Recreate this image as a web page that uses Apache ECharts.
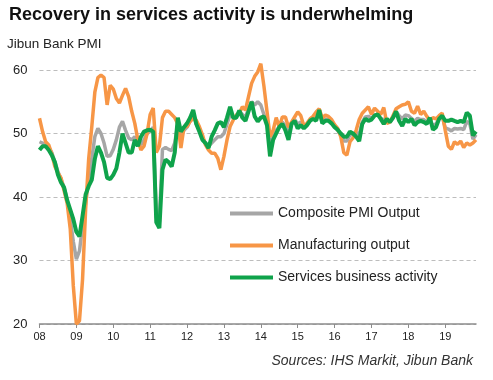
<!DOCTYPE html>
<html>
<head>
<meta charset="utf-8">
<script src="https://cdn.jsdelivr.net/npm/echarts@6/dist/echarts.min.js"></script>
<style>
html,body{margin:0;padding:0;background:#fff;}
#c{width:493px;height:380px;}
</style>
</head>
<body>
<div id="c"></div>
<script>
// Tick labels (years) and y ticks
const yearLabels = ['08','09','10','11','12','13','14','15','16','17','18','19'];
const monthsInLastYear = 11; // data runs to Nov 2019
const yTicks = [20, 30, 40, 50, 60];

// Composite PMI Output (monthly, Jan 2008 - Nov 2019)
const composite = [
  48.7, 48.5, 48.3, 47.8, 47.0, 45.5, 44.0, 42.8, 41.5, 39.5, 36.5, 33.0,
  30.2, 31.5, 35.5, 39.0, 43.0, 46.0, 49.5, 50.8, 50.0, 48.5, 46.4, 46.5,
  47.5, 49.0, 51.0, 51.9, 50.5, 49.3, 49.0, 49.5, 48.8, 48.2, 49.0, 50.0,
  50.3, 51.0, 36.8, 36.0, 47.5, 47.8, 47.5, 47.3, 48.5, 51.5, 49.5, 50.5,
  51.0, 52.0, 53.0, 51.5, 50.5, 49.3, 48.5, 48.0, 48.5, 49.0, 49.5, 49.5,
  50.0, 51.5, 53.0, 52.5, 52.5, 53.5, 53.0, 52.5, 54.0, 55.0, 54.5, 55.0,
  54.5, 53.0, 52.0, 48.0, 49.5, 50.5, 51.0, 51.8, 51.2, 49.8, 51.5, 52.2,
  51.5, 51.8, 50.9, 51.4, 52.1, 52.4, 52.4, 53.7, 51.9, 52.3, 52.2, 51.8,
  51.2, 50.5, 49.8, 48.8, 48.8, 49.8, 49.8, 50.2, 49.8, 51.8, 52.6, 52.7,
  52.4, 52.9, 53.0, 52.4, 52.2, 52.0, 51.8, 52.4, 53.4, 52.8, 52.3, 52.9,
  52.8, 52.4, 51.9, 52.4, 52.2, 52.2, 51.8, 52.0, 51.3, 51.5, 52.4, 52.7,
  50.9, 50.7, 50.4, 50.8, 50.7, 50.8, 50.6, 51.9, 51.5, 49.1, 49.8
];

// Manufacturing output
const manufacturing = [
  52.4, 50.3, 48.7, 48.2, 46.8, 44.8, 43.8, 43.0, 41.0, 39.0, 35.0, 26.0,
  20.0, 20.5, 27.0, 38.0, 46.0, 51.0, 56.5, 58.8, 59.2, 58.8, 54.5, 57.6,
  57.0, 55.5, 54.8, 56.0, 57.1, 55.8, 53.5, 51.6, 49.0, 47.4, 48.0, 50.0,
  53.0, 54.0, 47.0, 48.0, 52.5, 53.5, 53.5, 53.0, 52.5, 51.5, 47.7, 51.0,
  51.1, 51.9, 52.4, 52.1, 51.1, 49.8, 48.2, 47.4, 46.9, 46.9, 46.1, 44.3,
  46.4, 49.0, 51.1, 52.1, 52.9, 53.2, 54.2, 53.7, 55.8, 57.9, 59.0, 59.7,
  61.0, 57.5, 53.5, 49.5, 50.5, 52.5, 51.0, 52.6, 52.6, 51.0, 51.8, 52.6,
  53.4, 52.8, 51.2, 51.6, 52.3, 52.7, 53.4, 53.9, 52.4, 52.9, 52.7, 52.2,
  51.4, 50.8, 49.5, 47.0, 46.6, 48.7, 49.3, 50.5, 52.2, 53.2, 53.7, 54.2,
  53.0, 54.0, 53.5, 53.0, 54.1, 51.6, 51.8, 52.8, 53.9, 54.2, 54.5, 54.6,
  55.0, 53.5, 53.2, 54.3, 53.0, 53.5, 52.7, 52.0, 52.5, 52.3, 52.8, 53.2,
  50.5, 48.0, 47.5, 48.7, 48.3, 48.8, 47.8, 48.5, 48.2, 48.5, 49.0
];

// Services business activity
const services = [
  47.4, 48.0, 48.0, 47.4, 46.6, 45.5, 43.5, 42.3, 41.5, 39.5, 38.0, 36.5,
  34.5, 33.8, 37.0, 40.4, 41.7, 42.7, 46.0, 48.0, 47.0, 45.5, 43.0, 42.8,
  43.5, 44.5, 47.0, 50.0, 48.5, 47.0, 47.0, 49.0, 48.0, 49.5, 50.3, 50.5,
  50.6, 50.3, 36.0, 35.1, 44.3, 45.9, 45.5, 44.8, 47.0, 52.5, 50.3, 51.0,
  51.6, 52.5, 53.7, 51.5, 50.3, 49.0, 48.5, 47.7, 49.5, 50.5, 51.6, 51.8,
  51.0, 52.5, 54.2, 52.5, 52.5, 53.6, 52.5, 52.0, 53.5, 55.0, 52.7, 51.9,
  52.5, 52.7, 51.3, 46.4, 49.0, 50.0, 51.0, 51.5, 50.5, 49.0, 51.5, 52.0,
  50.8, 51.3, 50.8, 51.3, 52.0, 52.3, 52.0, 53.7, 51.6, 52.0, 52.0, 51.6,
  51.0, 50.6, 50.0, 49.5, 49.5, 50.3, 50.0, 49.5, 48.8, 51.5, 52.3, 52.0,
  52.2, 52.8, 53.0, 52.3, 51.5, 52.3, 51.8, 52.5, 53.5, 52.0, 51.2, 52.3,
  51.8, 52.3, 51.3, 51.8, 52.0, 51.8, 51.5, 52.5, 50.6, 51.0, 52.3, 52.8,
  52.0, 52.0, 52.2, 52.0, 51.8, 52.0, 51.8, 53.3, 52.8, 49.7, 50.3
];

const seriesNames = ['Composite PMI Output', 'Manufacturing output', 'Services business activity'];
const seriesColors = ['#a6a6a6', '#f79646', '#0fa34b'];

// Build month categories from year labels
const categories = [];
yearLabels.forEach((y, i) => {
  const n = (i === yearLabels.length - 1) ? monthsInLastYear : 12;
  for (let m = 1; m <= n; m++) categories.push(y + '-' + String(m).padStart(2, '0'));
});

const FONT = '"Liberation Sans", Arial, sans-serif';
const isJan = (idx) => idx % 12 === 0;

const chart = echarts.init(document.getElementById('c'), null, {renderer: 'canvas'});
chart.setOption({
  animation: false,
  backgroundColor: '#ffffff',
  textStyle: {fontFamily: FONT},
  title: [
    {text: 'Recovery in services activity is underwhelming', left: 9, top: 6, padding: 0,
     textStyle: {fontFamily: FONT, fontSize: 18, fontWeight: 'bold', color: '#111'}},
    {text: 'Jibun Bank PMI', left: 7, top: 37, padding: 0,
     textStyle: {fontFamily: FONT, fontSize: 13.5, fontWeight: 'normal', color: '#222'}},
    {text: 'Sources: IHS Markit, Jibun Bank', right: 20, top: 354, padding: 0,
     textStyle: {fontFamily: FONT, fontSize: 14, fontStyle: 'italic', fontWeight: 'normal', color: '#333'}}
  ],
  grid: {left: 39.5, right: 17, top: 70, bottom: 56, containLabel: false},
  legend: {
    orient: 'vertical', left: 225, top: 200,
    icon: 'rect', itemWidth: 43, itemHeight: 4, itemGap: 15,
    textStyle: {fontFamily: FONT, fontSize: 14, color: '#222', lineHeight: 17},
    data: seriesNames
  },
  xAxis: {
    type: 'category', boundaryGap: false, data: categories,
    axisLine: {lineStyle: {color: '#8c8c8c', width: 1.5}},
    axisTick: {show: true, interval: isJan, length: 4, inside: false, lineStyle: {color: '#8c8c8c'}},
    axisLabel: {interval: isJan, margin: 7, fontSize: 11, color: '#222', fontFamily: FONT,
      formatter: (v, idx) => yearLabels[Math.floor(idx / 12)]},
    splitLine: {show: false}
  },
  yAxis: {
    type: 'value', min: yTicks[0], max: yTicks[yTicks.length - 1], interval: 10,
    axisLine: {show: false}, axisTick: {show: false},
    axisLabel: {margin: 12, fontSize: 13, color: '#222', fontFamily: FONT},
    splitLine: {show: true, lineStyle: {color: '#bdbdbd', type: [4, 3], width: 1}}
  },
  series: [
    {name: seriesNames[0], type: 'line', data: composite, showSymbol: false, clip: false,
     lineStyle: {color: seriesColors[0], width: 3.5}, itemStyle: {color: seriesColors[0]}},
    {name: seriesNames[1], type: 'line', data: manufacturing, showSymbol: false, clip: false,
     lineStyle: {color: seriesColors[1], width: 3.5}, itemStyle: {color: seriesColors[1]}},
    {name: seriesNames[2], type: 'line', data: services, showSymbol: false, clip: false,
     lineStyle: {color: seriesColors[2], width: 4}, itemStyle: {color: seriesColors[2]}}
  ]
});
</script>
</body>
</html>
